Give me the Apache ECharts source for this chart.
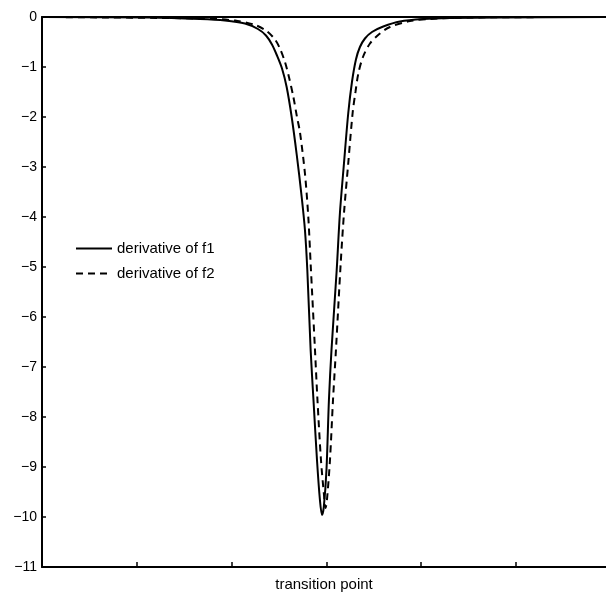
<!DOCTYPE html>
<html>
<head>
<meta charset="utf-8">
<script src="https://cdn.jsdelivr.net/npm/echarts@6/dist/echarts.min.js"></script>
<style>
html,body{margin:0;padding:0;background:#fff;}
#chart{width:606px;height:596px;}
</style>
</head>
<body>
<div id="chart"></div>
<script>
// x positions (transition point at 0)
var xSolid = [-3.0, -1.861, -1.333, -1.070, -0.859, -0.722, -0.637, -0.574, -0.521, -0.468, -0.419, -0.366, -0.313, -0.261, -0.226, -0.201, -0.166, -0.136, -0.099, -0.068, -0.046, -0.027, 0.001, 0.027, 0.054, 0.109, 0.143, 0.186, 0.231, 0.270, 0.312, 0.354, 0.407, 0.481, 0.600, 0.776, 1.022, 1.304, 1.832, 2.95];
var ySolid = [0, -0.01, -0.04, -0.07, -0.13, -0.24, -0.37, -0.55, -0.77, -1.03, -1.40, -2.00, -2.75, -3.59, -4.26, -5.06, -6.66, -7.66, -8.86, -9.66, -9.96, -9.80, -9.06, -7.66, -6.66, -5.06, -3.92, -2.92, -1.92, -1.30, -0.85, -0.60, -0.43, -0.30, -0.19, -0.09, -0.04, -0.02, -0.01, 0];

var xDashed = [-3.0, -1.333, -0.964, -0.753, -0.630, -0.542, -0.490, -0.437, -0.395, -0.349, -0.310, -0.279, -0.226, -0.191, -0.166, -0.120, -0.094, -0.057, -0.025, -0.009, 0.006, 0.038, 0.070, 0.101, 0.151, 0.186, 0.231, 0.277, 0.307, 0.337, 0.386, 0.460, 0.565, 0.671, 0.882, 1.093, 1.515, 2.95];
var yDashed = [0, -0.03, -0.07, -0.16, -0.28, -0.45, -0.63, -0.90, -1.20, -1.59, -2.00, -2.30, -3.13, -3.99, -4.93, -6.66, -7.66, -8.86, -9.56, -9.82, -9.66, -8.86, -7.66, -6.66, -4.93, -3.92, -2.92, -1.92, -1.50, -1.13, -0.80, -0.53, -0.33, -0.20, -0.08, -0.04, -0.01, 0];

var seriesNames = ['derivative of f1', 'derivative of f2'];
var xAxisName = 'transition point';
var xTicks = [-3, -2, -1, 0, 1, 2];
var yTicks = [0, -1, -2, -3, -4, -5, -6, -7, -8, -9, -10, -11];

function pairs(xs, ys) {
  return xs.map(function (x, i) { return [x, ys[i]]; });
}

var chart = echarts.init(document.getElementById('chart'));
var font = 'Liberation Sans, Arial, sans-serif';
var axisLineStyle = { color: '#000', width: 2 };
chart.setOption({
  animation: false,
  backgroundColor: '#fff',
  grid: { left: 42, right: 0, top: 17, bottom: 29, outerBoundsMode: 'none', containLabel: false },
  legend: {
    orient: 'vertical', left: 70, top: 236,
    itemWidth: 36, itemHeight: 14, itemGap: 10,
    itemStyle: { opacity: 0 },
    textStyle: { fontFamily: font, fontSize: 15, color: '#000' },
    data: seriesNames
  },
  xAxis: [
    {
      type: 'value', min: -3, max: 2.95, interval: 1, position: 'bottom',
      name: xAxisName, nameLocation: 'middle', nameGap: 10,
      nameTextStyle: { fontFamily: font, fontSize: 15, color: '#000' },
      axisLine: { onZero: false, lineStyle: axisLineStyle },
      axisTick: { inside: true, length: 5, customValues: xTicks, lineStyle: { color: '#000', width: 1.5 } },
      axisLabel: { show: false },
      splitLine: { show: false }
    },
    {
      type: 'value', min: -3, max: 2.95, position: 'top',
      axisLine: { onZero: false, lineStyle: axisLineStyle },
      axisTick: { show: false },
      axisLabel: { show: false },
      splitLine: { show: false }
    }
  ],
  yAxis: {
    type: 'value', min: yTicks[yTicks.length - 1], max: yTicks[0], interval: 1,
    axisLine: { onZero: false, lineStyle: axisLineStyle },
    axisTick: { inside: true, length: 4, lineStyle: { color: '#000', width: 1.5 } },
    axisLabel: {
      fontFamily: font, fontSize: 14, color: '#000', margin: 5,
      formatter: function (v) { return v < 0 ? '\u2212' + Math.abs(v) : String(v); }
    },
    splitLine: { show: false }
  },
  series: [
    {
      name: seriesNames[0], type: 'line', data: pairs(xSolid, ySolid),
      showSymbol: false, symbol: 'none', smooth: 0.3,
      lineStyle: { color: '#000', width: 2, type: 'solid' },
      itemStyle: { color: '#000' }
    },
    {
      name: seriesNames[1], type: 'line', data: pairs(xDashed, yDashed),
      showSymbol: false, symbol: 'none', smooth: 0.3,
      lineStyle: { color: '#000', width: 2, type: [7, 5] },
      itemStyle: { color: '#000' }
    }
  ]
});
</script>
</body>
</html>
